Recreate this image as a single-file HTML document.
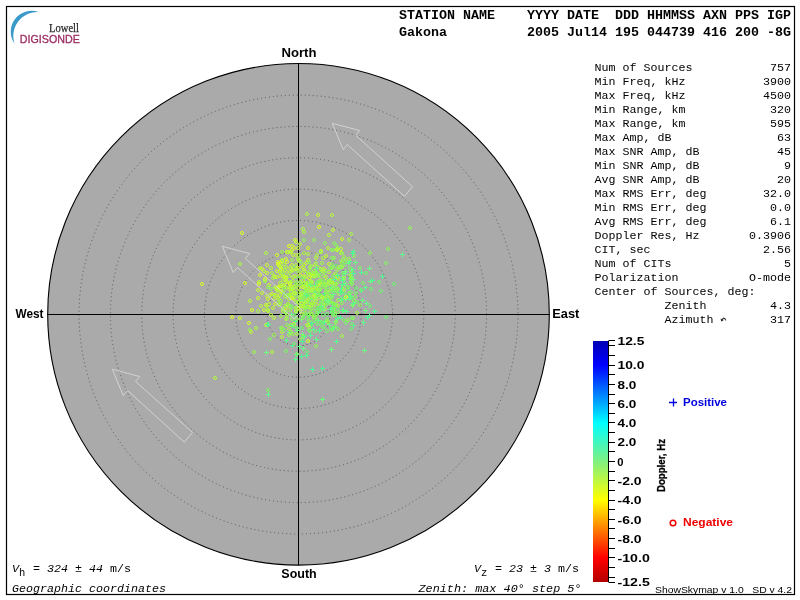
<!DOCTYPE html>
<html><head><meta charset="utf-8">
<style>
html,body{margin:0;padding:0;background:#fff;width:800px;height:600px;overflow:hidden}
svg{display:block;will-change:transform}
.mb{font-family:"Liberation Mono",monospace;font-weight:bold}
.m{font-family:"Liberation Mono",monospace}
.mi{font-family:"Liberation Mono",monospace;font-style:italic}
.sb{font-family:"Liberation Sans",sans-serif;font-weight:bold}
.s{font-family:"Liberation Sans",sans-serif}
</style></head><body>
<svg width="800" height="600" viewBox="0 0 800 600">
<rect x="0" y="0" width="800" height="600" fill="#fff"/>
<rect x="6.5" y="6.5" width="788" height="588" fill="none" stroke="#000" stroke-width="1.2"/>
<!-- logo -->
<path d="M38.5,12 A20.8,20.8 0 0 0 14.5,43.5 A24,24 0 0 1 38.5,12 Z" fill="#3a9ac9"/>
<text x="49" y="31.5" font-family="Liberation Serif" font-size="11.5" fill="#2b2b2b" stroke="#2b2b2b" stroke-width="0.25" textLength="30" lengthAdjust="spacingAndGlyphs">Lowell</text>
<text x="19.8" y="43.3" font-family="Liberation Sans" font-size="11" fill="#9b2c62" stroke="#9b2c62" stroke-width="0.3" textLength="60" lengthAdjust="spacingAndGlyphs">DIGISONDE</text>
<!-- header -->
<g class="mb" font-size="13.33" fill="#000">
<text x="399" y="19.3" xml:space="preserve">STATION NAME    YYYY DATE  DDD HHMMSS AXN PPS IGP</text>
<text x="399" y="36.3" xml:space="preserve">Gakona          2005 Jul14 195 044739 416 200 -8G</text>
</g>
<!-- sky circle -->
<circle cx="298.5" cy="314.3" r="250.8" fill="#aaaaaa" stroke="#000" stroke-width="1.1"/>
<g fill="none" stroke="#585858" stroke-width="1" stroke-dasharray="1 3">
<circle cx="298.5" cy="314.5" r="31.35"/>
<circle cx="298.5" cy="314.5" r="62.70"/>
<circle cx="298.5" cy="314.5" r="94.05"/>
<circle cx="298.5" cy="314.5" r="125.40"/>
<circle cx="298.5" cy="314.5" r="156.75"/>
<circle cx="298.5" cy="314.5" r="188.10"/>
<circle cx="298.5" cy="314.5" r="219.45"/>
</g>
<g stroke="#000" stroke-width="1">
<line x1="298.5" y1="63" x2="298.5" y2="565"/>
<line x1="47" y1="314.5" x2="549" y2="314.5"/>
</g>
<g id="pts" fill="none" stroke-width="1"><circle cx="343" cy="260" r="1.5" stroke="#8ef858"/><circle cx="309" cy="330" r="1.5" stroke="#6ef56e"/><circle cx="305" cy="287" r="1.5" stroke="#82f760"/><circle cx="278" cy="291" r="1.5" stroke="#b1fb3f"/><circle cx="308" cy="302" r="1.5" stroke="#70f56d"/><circle cx="336" cy="306" r="1.5" stroke="#84f75f"/><circle cx="326" cy="294" r="1.5" stroke="#75f669"/><circle cx="310" cy="297" r="1.5" stroke="#b2fb3e"/><circle cx="351" cy="234" r="1.5" stroke="#aafa44"/><circle cx="283" cy="276" r="1.5" stroke="#acfa43"/><circle cx="338" cy="306" r="1.5" stroke="#aefb41"/><circle cx="291" cy="252" r="1.5" stroke="#99f950"/><path d="M335.0 318.5h5M337.5 316.0v5" stroke="#57fc8d"/><circle cx="323" cy="305" r="1.5" stroke="#aefb42"/><circle cx="259" cy="284" r="1.5" stroke="#e1ff1e"/><circle cx="298" cy="259" r="1.5" stroke="#b3fb3e"/><circle cx="356" cy="293" r="1.5" stroke="#7ff762"/><circle cx="308" cy="298" r="1.5" stroke="#a4fa48"/><path d="M367.0 315.5h5M369.5 313.0v5" stroke="#56fc8d"/><circle cx="351" cy="282" r="1.5" stroke="#9bf94f"/><path d="M348.0 278.5h5M350.5 276.0v5" stroke="#55fc8e"/><path d="M307.0 315.5h5M309.5 313.0v5" stroke="#59fc8b"/><circle cx="292" cy="265" r="1.5" stroke="#c3fc33"/><circle cx="302" cy="328" r="1.5" stroke="#6ef56e"/><circle cx="312" cy="290" r="1.5" stroke="#e1ff1e"/><circle cx="330" cy="292" r="1.5" stroke="#93f854"/><circle cx="305" cy="310" r="1.5" stroke="#95f853"/><circle cx="287" cy="282" r="1.5" stroke="#d1fe29"/><circle cx="250" cy="330" r="1.5" stroke="#91f856"/><circle cx="266" cy="325" r="1.5" stroke="#c1fc34"/><path d="M299.0 319.5h5M301.5 317.0v5" stroke="#71ff7e"/><path d="M290.0 345.5h5M292.5 343.0v5" stroke="#4cfb93"/><circle cx="298" cy="248" r="1.5" stroke="#c1fc34"/><path d="M370.0 280.5h5M372.5 278.0v5" stroke="#46fa96"/><path d="M348.0 296.5h5M350.5 294.0v5" stroke="#6dfe80"/><circle cx="351" cy="292" r="1.5" stroke="#7af665"/><path d="M293.0 321.5h5M295.5 319.0v5" stroke="#51fb90"/><circle cx="293" cy="277" r="1.5" stroke="#c2fc33"/><circle cx="289" cy="276" r="1.5" stroke="#97f951"/><circle cx="322" cy="326" r="1.5" stroke="#78f667"/><circle cx="300" cy="297" r="1.5" stroke="#abfa44"/><circle cx="297" cy="277" r="1.5" stroke="#87f75c"/><circle cx="287" cy="325" r="1.5" stroke="#93f854"/><circle cx="264" cy="271" r="1.5" stroke="#b2fb3f"/><path d="M328.0 288.5h5M330.5 286.0v5" stroke="#48fa95"/><circle cx="295" cy="286" r="1.5" stroke="#cffd2b"/><circle cx="323" cy="297" r="1.5" stroke="#91f856"/><circle cx="302" cy="314" r="1.5" stroke="#b8fb3b"/><circle cx="292" cy="295" r="1.5" stroke="#b9fc3a"/><circle cx="283" cy="280" r="1.5" stroke="#b4fb3e"/><path d="M350.0 305.5h5M352.5 303.0v5" stroke="#70ff7f"/><circle cx="300" cy="300" r="1.5" stroke="#b6fb3c"/><path d="M365.0 317.5h5M367.5 315.0v5" stroke="#4dfb92"/><path d="M320.0 399.5h5M322.5 397.0v5" stroke="#6fff7f"/><circle cx="342" cy="239" r="1.5" stroke="#cdfd2c"/><circle cx="300" cy="282" r="1.5" stroke="#9ef94d"/><circle cx="334" cy="309" r="1.5" stroke="#78f667"/><path d="M335.0 288.5h5M337.5 286.0v5" stroke="#5dfd89"/><circle cx="319" cy="276" r="1.5" stroke="#bbfc38"/><circle cx="297" cy="307" r="1.5" stroke="#81f761"/><circle cx="410" cy="228" r="1.5" stroke="#92f855"/><circle cx="292" cy="288" r="1.5" stroke="#a9fa45"/><circle cx="287" cy="252" r="1.5" stroke="#e1ff1e"/><circle cx="343" cy="273" r="1.5" stroke="#80f761"/><circle cx="301" cy="293" r="1.5" stroke="#b3fb3e"/><circle cx="318" cy="295" r="1.5" stroke="#b0fb40"/><path d="M334.0 341.5h5M336.5 339.0v5" stroke="#55fc8e"/><circle cx="315" cy="292" r="1.5" stroke="#83f75f"/><circle cx="314" cy="305" r="1.5" stroke="#adfa42"/><circle cx="312" cy="274" r="1.5" stroke="#9df94d"/><circle cx="282" cy="260" r="1.5" stroke="#a1f94b"/><circle cx="334" cy="258" r="1.5" stroke="#92f855"/><circle cx="281" cy="267" r="1.5" stroke="#bffc36"/><circle cx="287" cy="262" r="1.5" stroke="#dafe23"/><path d="M341.0 310.5h5M343.5 308.0v5" stroke="#65fd85"/><circle cx="337" cy="249" r="1.5" stroke="#b5fb3d"/><circle cx="298" cy="302" r="1.5" stroke="#a5fa47"/><circle cx="267" cy="296" r="1.5" stroke="#c5fd31"/><path d="M351.0 279.5h5M353.5 277.0v5" stroke="#6efe80"/><circle cx="290" cy="295" r="1.5" stroke="#a2f94a"/><circle cx="379" cy="282" r="1.5" stroke="#71f56c"/><circle cx="294" cy="344" r="1.5" stroke="#6ef56e"/><circle cx="301" cy="306" r="1.5" stroke="#b2fb3f"/><circle cx="349" cy="293" r="1.5" stroke="#88f75c"/><path d="M372.0 311.5h5M374.5 309.0v5" stroke="#50fb90"/><circle cx="291" cy="288" r="1.5" stroke="#b0fb40"/><circle cx="338" cy="300" r="1.5" stroke="#acfa43"/><circle cx="304" cy="265" r="1.5" stroke="#bafc39"/><circle cx="293" cy="270" r="1.5" stroke="#e1ff1e"/><circle cx="337" cy="250" r="1.5" stroke="#b8fb3a"/><circle cx="342" cy="336" r="1.5" stroke="#a6fa47"/><circle cx="321" cy="269" r="1.5" stroke="#adfa42"/><circle cx="283" cy="309" r="1.5" stroke="#a1f94a"/><circle cx="289" cy="289" r="1.5" stroke="#b4fb3d"/><circle cx="351" cy="283" r="1.5" stroke="#6ef56e"/><circle cx="262" cy="269" r="1.5" stroke="#d5fe26"/><path d="M329.0 349.5h5M331.5 347.0v5" stroke="#72ff7e"/><circle cx="320" cy="311" r="1.5" stroke="#8ff857"/><circle cx="292" cy="319" r="1.5" stroke="#97f951"/><path d="M340.0 277.5h5M342.5 275.0v5" stroke="#66fe84"/><circle cx="299" cy="255" r="1.5" stroke="#a6fa47"/><circle cx="291" cy="325" r="1.5" stroke="#9df94d"/><path d="M330.0 289.5h5M332.5 287.0v5" stroke="#71ff7e"/><circle cx="311" cy="308" r="1.5" stroke="#96f852"/><circle cx="354" cy="256" r="1.5" stroke="#8cf859"/><path d="M302.0 293.5h5M304.5 291.0v5" stroke="#6afe82"/><circle cx="366" cy="273" r="1.5" stroke="#70f56d"/><circle cx="321" cy="280" r="1.5" stroke="#a5fa48"/><circle cx="334" cy="285" r="1.5" stroke="#97f952"/><circle cx="274" cy="276" r="1.5" stroke="#bafc39"/><circle cx="310" cy="325" r="1.5" stroke="#a5fa47"/><circle cx="338" cy="282" r="1.5" stroke="#8df859"/><circle cx="346" cy="259" r="1.5" stroke="#a3fa49"/><circle cx="323" cy="315" r="1.5" stroke="#77f668"/><circle cx="322" cy="323" r="1.5" stroke="#6ef56e"/><circle cx="319" cy="281" r="1.5" stroke="#a2f94a"/><circle cx="280" cy="272" r="1.5" stroke="#c2fc33"/><circle cx="312" cy="272" r="1.5" stroke="#8ff857"/><circle cx="307" cy="291" r="1.5" stroke="#bbfc38"/><circle cx="269" cy="304" r="1.5" stroke="#befc36"/><circle cx="336" cy="245" r="1.5" stroke="#8bf85a"/><circle cx="306" cy="308" r="1.5" stroke="#79f666"/><circle cx="326" cy="271" r="1.5" stroke="#7ef663"/><circle cx="307" cy="284" r="1.5" stroke="#c6fd31"/><circle cx="307" cy="352" r="1.5" stroke="#6ef56e"/><path d="M338.0 299.5h5M340.5 297.0v5" stroke="#51fb90"/><circle cx="329" cy="303" r="1.5" stroke="#a4fa48"/><circle cx="315" cy="294" r="1.5" stroke="#e1ff1e"/><circle cx="312" cy="275" r="1.5" stroke="#a8fa46"/><circle cx="302" cy="309" r="1.5" stroke="#adfa42"/><circle cx="252" cy="310" r="1.5" stroke="#e1ff1e"/><circle cx="336" cy="266" r="1.5" stroke="#6ef56e"/><path d="M347.0 298.5h5M349.5 296.0v5" stroke="#64fd85"/><path d="M310.0 369.5h5M312.5 367.0v5" stroke="#4afa94"/><circle cx="290" cy="268" r="1.5" stroke="#bcfc38"/><path d="M300.0 300.5h5M302.5 298.0v5" stroke="#62fd86"/><circle cx="337" cy="309" r="1.5" stroke="#6ef56e"/><circle cx="293" cy="334" r="1.5" stroke="#91f856"/><circle cx="339" cy="267" r="1.5" stroke="#b3fb3e"/><path d="M364.0 303.5h5M366.5 301.0v5" stroke="#65fd85"/><circle cx="315" cy="331" r="1.5" stroke="#79f666"/><path d="M344.0 311.5h5M346.5 309.0v5" stroke="#5afc8b"/><path d="M330.0 287.5h5M332.5 285.0v5" stroke="#64fd85"/><circle cx="286" cy="308" r="1.5" stroke="#cafd2e"/><circle cx="299" cy="306" r="1.5" stroke="#99f950"/><circle cx="313" cy="287" r="1.5" stroke="#c5fd31"/><circle cx="316" cy="295" r="1.5" stroke="#95f853"/><circle cx="360" cy="305" r="1.5" stroke="#8ff857"/><circle cx="256" cy="328" r="1.5" stroke="#b1fb3f"/><circle cx="329" cy="290" r="1.5" stroke="#acfa43"/><circle cx="324" cy="276" r="1.5" stroke="#a6fa47"/><circle cx="279" cy="305" r="1.5" stroke="#9cf94e"/><circle cx="280" cy="286" r="1.5" stroke="#e0ff1f"/><circle cx="316" cy="287" r="1.5" stroke="#8ff857"/><circle cx="331" cy="298" r="1.5" stroke="#a1f94a"/><circle cx="322" cy="322" r="1.5" stroke="#6ef56e"/><path d="M266.0 324.5h5M268.5 322.0v5" stroke="#52fb8f"/><circle cx="281" cy="328" r="1.5" stroke="#8af75b"/><circle cx="342" cy="267" r="1.5" stroke="#b0fb40"/><circle cx="344" cy="290" r="1.5" stroke="#b3fb3e"/><circle cx="386" cy="317" r="1.5" stroke="#6ef56e"/><circle cx="297" cy="282" r="1.5" stroke="#9bf94f"/><circle cx="278" cy="262" r="1.5" stroke="#e1ff1e"/><circle cx="315" cy="299" r="1.5" stroke="#ccfd2d"/><circle cx="259" cy="282" r="1.5" stroke="#c6fd31"/><path d="M327.0 324.5h5M329.5 322.0v5" stroke="#6cfe81"/><circle cx="314" cy="317" r="1.5" stroke="#a6fa47"/><circle cx="305" cy="288" r="1.5" stroke="#97f951"/><circle cx="334" cy="310" r="1.5" stroke="#9af94f"/><circle cx="249" cy="323" r="1.5" stroke="#d8fe24"/><circle cx="328" cy="248" r="1.5" stroke="#bafc39"/><circle cx="318" cy="267" r="1.5" stroke="#9ef94d"/><path d="M360.0 300.5h5M362.5 298.0v5" stroke="#68fe83"/><circle cx="352" cy="284" r="1.5" stroke="#88f75c"/><circle cx="304" cy="269" r="1.5" stroke="#bbfc39"/><path d="M316.0 312.5h5M318.5 310.0v5" stroke="#4efb92"/><path d="M308.0 335.5h5M310.5 333.0v5" stroke="#56fc8d"/><path d="M330.0 328.5h5M332.5 326.0v5" stroke="#64fd85"/><circle cx="371" cy="289" r="1.5" stroke="#6ef56e"/><circle cx="302" cy="292" r="1.5" stroke="#91f856"/><circle cx="329" cy="295" r="1.5" stroke="#74f66a"/><circle cx="337" cy="275" r="1.5" stroke="#7bf665"/><circle cx="296" cy="312" r="1.5" stroke="#6ef56e"/><circle cx="307" cy="214" r="1.5" stroke="#b0fb40"/><circle cx="314" cy="276" r="1.5" stroke="#c2fc33"/><circle cx="258" cy="311" r="1.5" stroke="#a9fa45"/><circle cx="331" cy="280" r="1.5" stroke="#a4fa49"/><circle cx="325" cy="309" r="1.5" stroke="#affb41"/><path d="M305.0 284.5h5M307.5 282.0v5" stroke="#59fc8b"/><circle cx="319" cy="282" r="1.5" stroke="#79f666"/><circle cx="329" cy="283" r="1.5" stroke="#b9fc3a"/><circle cx="309" cy="281" r="1.5" stroke="#91f855"/><circle cx="317" cy="314" r="1.5" stroke="#a3fa49"/><circle cx="305" cy="296" r="1.5" stroke="#91f855"/><circle cx="313" cy="287" r="1.5" stroke="#b1fb3f"/><circle cx="301" cy="293" r="1.5" stroke="#c0fc35"/><path d="M287.0 332.5h5M289.5 330.0v5" stroke="#54fc8e"/><circle cx="296" cy="255" r="1.5" stroke="#c6fd31"/><circle cx="343" cy="286" r="1.5" stroke="#9ff94c"/><circle cx="338" cy="329" r="1.5" stroke="#83f75f"/><circle cx="281" cy="289" r="1.5" stroke="#9cf94e"/><circle cx="327" cy="314" r="1.5" stroke="#6ff56d"/><circle cx="332" cy="258" r="1.5" stroke="#8af75a"/><circle cx="283" cy="311" r="1.5" stroke="#adfa42"/><circle cx="328" cy="296" r="1.5" stroke="#a2fa4a"/><circle cx="332" cy="296" r="1.5" stroke="#93f854"/><circle cx="299" cy="261" r="1.5" stroke="#b7fb3b"/><circle cx="304" cy="302" r="1.5" stroke="#8df859"/><circle cx="316" cy="315" r="1.5" stroke="#7df664"/><circle cx="293" cy="298" r="1.5" stroke="#bdfc37"/><circle cx="290" cy="296" r="1.5" stroke="#cbfd2e"/><circle cx="336" cy="278" r="1.5" stroke="#c3fc33"/><circle cx="321" cy="304" r="1.5" stroke="#9bf94f"/><circle cx="318" cy="289" r="1.5" stroke="#9df94d"/><circle cx="321" cy="302" r="1.5" stroke="#74f66a"/><circle cx="301" cy="284" r="1.5" stroke="#98f951"/><circle cx="314" cy="318" r="1.5" stroke="#92f855"/><circle cx="325" cy="287" r="1.5" stroke="#abfa44"/><circle cx="329" cy="235" r="1.5" stroke="#bafc39"/><circle cx="332" cy="282" r="1.5" stroke="#ccfd2c"/><circle cx="295" cy="293" r="1.5" stroke="#bbfc39"/><circle cx="290" cy="310" r="1.5" stroke="#a7fa46"/><circle cx="315" cy="291" r="1.5" stroke="#8af75a"/><circle cx="317" cy="305" r="1.5" stroke="#b2fb3e"/><circle cx="293" cy="281" r="1.5" stroke="#a6fa47"/><path d="M309.0 298.5h5M311.5 296.0v5" stroke="#5cfc8a"/><circle cx="312" cy="299" r="1.5" stroke="#91f855"/><circle cx="357" cy="302" r="1.5" stroke="#75f669"/><circle cx="278" cy="303" r="1.5" stroke="#9ef94d"/><circle cx="291" cy="292" r="1.5" stroke="#b4fb3e"/><circle cx="327" cy="319" r="1.5" stroke="#7ef663"/><circle cx="281" cy="269" r="1.5" stroke="#e1ff1e"/><circle cx="279" cy="266" r="1.5" stroke="#c7fd30"/><path d="M323.0 299.5h5M325.5 297.0v5" stroke="#48fa95"/><circle cx="232" cy="317" r="1.5" stroke="#e1ff1e"/><circle cx="300" cy="272" r="1.5" stroke="#affb41"/><path d="M333.0 321.5h5M335.5 319.0v5" stroke="#59fc8b"/><circle cx="309" cy="307" r="1.5" stroke="#deff20"/><circle cx="333" cy="304" r="1.5" stroke="#9bf94f"/><circle cx="274" cy="299" r="1.5" stroke="#c3fc33"/><circle cx="282" cy="261" r="1.5" stroke="#bffc36"/><circle cx="265" cy="281" r="1.5" stroke="#94f854"/><circle cx="281" cy="301" r="1.5" stroke="#98f951"/><circle cx="307" cy="307" r="1.5" stroke="#82f760"/><circle cx="325" cy="296" r="1.5" stroke="#6ef56e"/><path d="M313.0 285.5h5M315.5 283.0v5" stroke="#60fd87"/><circle cx="268" cy="311" r="1.5" stroke="#bcfc38"/><circle cx="352" cy="275" r="1.5" stroke="#7cf664"/><circle cx="290" cy="283" r="1.5" stroke="#acfa43"/><circle cx="351" cy="277" r="1.5" stroke="#85f75e"/><circle cx="273" cy="308" r="1.5" stroke="#bbfc38"/><circle cx="268" cy="299" r="1.5" stroke="#d2fe28"/><circle cx="285" cy="277" r="1.5" stroke="#b0fb40"/><path d="M359.0 290.5h5M361.5 288.0v5" stroke="#59fc8c"/><circle cx="333" cy="250" r="1.5" stroke="#83f75f"/><circle cx="316" cy="288" r="1.5" stroke="#adfa42"/><circle cx="300" cy="339" r="1.5" stroke="#8ff857"/><circle cx="276" cy="288" r="1.5" stroke="#c5fd31"/><path d="M343.0 273.5h5M345.5 271.0v5" stroke="#5ffd88"/><circle cx="332" cy="264" r="1.5" stroke="#7bf665"/><path d="M322.0 293.5h5M324.5 291.0v5" stroke="#5afc8b"/><circle cx="308" cy="260" r="1.5" stroke="#c1fc34"/><circle cx="304" cy="232" r="1.5" stroke="#b1fb40"/><circle cx="286" cy="281" r="1.5" stroke="#b7fb3b"/><circle cx="318" cy="312" r="1.5" stroke="#7bf665"/><circle cx="286" cy="312" r="1.5" stroke="#9ef94d"/><circle cx="308" cy="319" r="1.5" stroke="#7af666"/><circle cx="287" cy="318" r="1.5" stroke="#85f75e"/><circle cx="288" cy="304" r="1.5" stroke="#98f951"/><circle cx="326" cy="285" r="1.5" stroke="#98f951"/><path d="M339.0 288.5h5M341.5 286.0v5" stroke="#4ffb91"/><path d="M361.0 322.5h5M363.5 320.0v5" stroke="#5efd88"/><circle cx="306" cy="291" r="1.5" stroke="#91f856"/><path d="M265.0 324.5h5M267.5 322.0v5" stroke="#55fc8e"/><circle cx="287" cy="315" r="1.5" stroke="#affb41"/><path d="M351.0 325.5h5M353.5 323.0v5" stroke="#57fc8c"/><circle cx="289" cy="329" r="1.5" stroke="#a9fa45"/><circle cx="322" cy="263" r="1.5" stroke="#a3fa49"/><circle cx="281" cy="286" r="1.5" stroke="#a5fa48"/><circle cx="269" cy="285" r="1.5" stroke="#dcff22"/><circle cx="304" cy="305" r="1.5" stroke="#81f761"/><circle cx="333" cy="267" r="1.5" stroke="#9af950"/><circle cx="284" cy="287" r="1.5" stroke="#abfa43"/><circle cx="342" cy="299" r="1.5" stroke="#96f852"/><path d="M351.0 251.5h5M353.5 249.0v5" stroke="#5afc8b"/><circle cx="312" cy="291" r="1.5" stroke="#98f950"/><path d="M314.0 295.5h5M316.5 293.0v5" stroke="#55fc8e"/><circle cx="302" cy="287" r="1.5" stroke="#b8fb3b"/><circle cx="327" cy="304" r="1.5" stroke="#7bf665"/><circle cx="286" cy="259" r="1.5" stroke="#d9fe23"/><circle cx="308" cy="254" r="1.5" stroke="#b4fb3d"/><circle cx="272" cy="294" r="1.5" stroke="#e1ff1e"/><circle cx="311" cy="309" r="1.5" stroke="#88f75c"/><circle cx="361" cy="290" r="1.5" stroke="#6ef56e"/><circle cx="334" cy="243" r="1.5" stroke="#86f75e"/><path d="M332.0 327.5h5M334.5 325.0v5" stroke="#54fc8e"/><circle cx="315" cy="275" r="1.5" stroke="#9af94f"/><circle cx="311" cy="325" r="1.5" stroke="#77f668"/><circle cx="332" cy="303" r="1.5" stroke="#6ef56e"/><circle cx="286" cy="267" r="1.5" stroke="#b1fb3f"/><circle cx="319" cy="294" r="1.5" stroke="#7df664"/><circle cx="291" cy="288" r="1.5" stroke="#bbfc39"/><circle cx="332" cy="330" r="1.5" stroke="#82f760"/><path d="M311.0 329.5h5M313.5 327.0v5" stroke="#57fc8c"/><circle cx="306" cy="302" r="1.5" stroke="#aafa44"/><circle cx="279" cy="287" r="1.5" stroke="#cbfd2d"/><circle cx="280" cy="263" r="1.5" stroke="#e1ff1e"/><circle cx="325" cy="243" r="1.5" stroke="#8df859"/><circle cx="330" cy="301" r="1.5" stroke="#98f951"/><circle cx="290" cy="252" r="1.5" stroke="#d5fe26"/><path d="M347.0 261.5h5M349.5 259.0v5" stroke="#51fb90"/><circle cx="272" cy="352" r="1.5" stroke="#b3fb3e"/><circle cx="333" cy="276" r="1.5" stroke="#86f75e"/><circle cx="322" cy="308" r="1.5" stroke="#a6fa47"/><path d="M351.0 273.5h5M353.5 271.0v5" stroke="#4cfb93"/><circle cx="295" cy="276" r="1.5" stroke="#b8fb3b"/><circle cx="282" cy="271" r="1.5" stroke="#b4fb3d"/><circle cx="266" cy="253" r="1.5" stroke="#aefb42"/><path d="M316.0 275.5h5M318.5 273.0v5" stroke="#70ff7f"/><circle cx="344" cy="290" r="1.5" stroke="#a1f94b"/><circle cx="326" cy="256" r="1.5" stroke="#c7fd30"/><circle cx="297" cy="328" r="1.5" stroke="#74f66a"/><path d="M284.0 340.5h5M286.5 338.0v5" stroke="#55fc8d"/><circle cx="240" cy="264" r="1.5" stroke="#b1fb3f"/><circle cx="327" cy="297" r="1.5" stroke="#b9fc3a"/><circle cx="344" cy="265" r="1.5" stroke="#8bf85a"/><circle cx="298" cy="288" r="1.5" stroke="#c0fc35"/><circle cx="312" cy="282" r="1.5" stroke="#c7fd30"/><circle cx="299" cy="260" r="1.5" stroke="#aefb42"/><circle cx="336" cy="284" r="1.5" stroke="#92f855"/><circle cx="319" cy="308" r="1.5" stroke="#6ef56e"/><circle cx="326" cy="292" r="1.5" stroke="#a4fa48"/><circle cx="260" cy="268" r="1.5" stroke="#bdfc37"/><circle cx="306" cy="289" r="1.5" stroke="#a1f94b"/><circle cx="337" cy="270" r="1.5" stroke="#a8fa45"/><circle cx="285" cy="306" r="1.5" stroke="#a5fa48"/><circle cx="332" cy="250" r="1.5" stroke="#93f854"/><circle cx="321" cy="296" r="1.5" stroke="#6ef56e"/><circle cx="282" cy="337" r="1.5" stroke="#b3fb3e"/><circle cx="316" cy="346" r="1.5" stroke="#94f854"/><circle cx="277" cy="290" r="1.5" stroke="#bbfc39"/><circle cx="295" cy="240" r="1.5" stroke="#d4fe27"/><circle cx="311" cy="266" r="1.5" stroke="#a8fa46"/><circle cx="324" cy="272" r="1.5" stroke="#91f855"/><circle cx="321" cy="252" r="1.5" stroke="#a3fa49"/><path d="M350.0 269.5h5M352.5 267.0v5" stroke="#4cfb93"/><circle cx="333" cy="315" r="1.5" stroke="#91f856"/><circle cx="296" cy="284" r="1.5" stroke="#8cf859"/><circle cx="335" cy="274" r="1.5" stroke="#b8fb3b"/><circle cx="322" cy="282" r="1.5" stroke="#a1f94a"/><circle cx="314" cy="271" r="1.5" stroke="#a8fa46"/><circle cx="311" cy="291" r="1.5" stroke="#a8fa46"/><circle cx="319" cy="227" r="1.5" stroke="#e1ff1e"/><circle cx="299" cy="292" r="1.5" stroke="#9ff94c"/><circle cx="292" cy="271" r="1.5" stroke="#a8fa46"/><circle cx="300" cy="310" r="1.5" stroke="#a7fa46"/><circle cx="324" cy="269" r="1.5" stroke="#cbfd2d"/><circle cx="306" cy="283" r="1.5" stroke="#9ef94d"/><circle cx="289" cy="246" r="1.5" stroke="#e1ff1e"/><circle cx="279" cy="265" r="1.5" stroke="#abfa44"/><circle cx="349" cy="294" r="1.5" stroke="#6ef56e"/><circle cx="267" cy="273" r="1.5" stroke="#cefd2b"/><circle cx="282" cy="332" r="1.5" stroke="#c0fc35"/><circle cx="284" cy="276" r="1.5" stroke="#cbfd2d"/><circle cx="202" cy="284" r="1.5" stroke="#e1ff1e"/><circle cx="303" cy="337" r="1.5" stroke="#8af75a"/><path d="M340.0 299.5h5M342.5 297.0v5" stroke="#50fb90"/><circle cx="348" cy="287" r="1.5" stroke="#85f75e"/><circle cx="268" cy="390" r="1.5" stroke="#7df664"/><circle cx="313" cy="297" r="1.5" stroke="#bffc36"/><circle cx="308" cy="300" r="1.5" stroke="#b7fb3b"/><path d="M368.0 281.5h5M370.5 279.0v5" stroke="#6dfe80"/><circle cx="342" cy="253" r="1.5" stroke="#93f854"/><circle cx="287" cy="296" r="1.5" stroke="#a3fa49"/><circle cx="289" cy="299" r="1.5" stroke="#b2fb3e"/><circle cx="311" cy="314" r="1.5" stroke="#87f75d"/><circle cx="330" cy="268" r="1.5" stroke="#87f75d"/><path d="M362.0 350.5h5M364.5 348.0v5" stroke="#68fe83"/><circle cx="283" cy="274" r="1.5" stroke="#9cf94e"/><circle cx="302" cy="297" r="1.5" stroke="#c4fc32"/><path d="M313.0 298.5h5M315.5 296.0v5" stroke="#66fe84"/><circle cx="325" cy="305" r="1.5" stroke="#95f853"/><path d="M326.0 280.5h5M328.5 278.0v5" stroke="#52fb90"/><circle cx="282" cy="292" r="1.5" stroke="#cafd2e"/><circle cx="316" cy="296" r="1.5" stroke="#acfa43"/><circle cx="262" cy="293" r="1.5" stroke="#c7fd30"/><circle cx="270" cy="339" r="1.5" stroke="#83f75f"/><path d="M340.0 284.5h5M342.5 282.0v5" stroke="#50fb90"/><circle cx="318" cy="215" r="1.5" stroke="#cbfd2d"/><circle cx="356" cy="288" r="1.5" stroke="#6ef56e"/><circle cx="270" cy="295" r="1.5" stroke="#bffc36"/><circle cx="285" cy="270" r="1.5" stroke="#b0fb40"/><circle cx="319" cy="283" r="1.5" stroke="#8df858"/><circle cx="304" cy="306" r="1.5" stroke="#b4fb3d"/><circle cx="331" cy="282" r="1.5" stroke="#b7fb3b"/><circle cx="296" cy="265" r="1.5" stroke="#b3fb3e"/><circle cx="312" cy="285" r="1.5" stroke="#95f853"/><circle cx="304" cy="253" r="1.5" stroke="#aefb42"/><circle cx="314" cy="321" r="1.5" stroke="#7cf664"/><circle cx="286" cy="313" r="1.5" stroke="#adfa42"/><circle cx="267" cy="265" r="1.5" stroke="#c7fd30"/><circle cx="318" cy="290" r="1.5" stroke="#b3fb3e"/><path d="M349.0 297.5h5M351.5 295.0v5" stroke="#4ffb91"/><circle cx="273" cy="278" r="1.5" stroke="#a3fa49"/><circle cx="260" cy="275" r="1.5" stroke="#dcff21"/><circle cx="333" cy="309" r="1.5" stroke="#a3fa49"/><path d="M300.0 341.5h5M302.5 339.0v5" stroke="#49fa94"/><circle cx="291" cy="289" r="1.5" stroke="#b4fb3d"/><circle cx="300" cy="298" r="1.5" stroke="#a5fa48"/><circle cx="277" cy="277" r="1.5" stroke="#b4fb3d"/><circle cx="300" cy="275" r="1.5" stroke="#e1ff1e"/><circle cx="281" cy="316" r="1.5" stroke="#9cf94e"/><circle cx="302" cy="296" r="1.5" stroke="#aefb42"/><circle cx="326" cy="281" r="1.5" stroke="#9ff94c"/><circle cx="254" cy="352" r="1.5" stroke="#97f952"/><circle cx="339" cy="294" r="1.5" stroke="#b1fb40"/><circle cx="291" cy="286" r="1.5" stroke="#c6fd31"/><circle cx="370" cy="306" r="1.5" stroke="#6ef56e"/><path d="M295.0 330.5h5M297.5 328.0v5" stroke="#69fe83"/><path d="M301.0 348.5h5M303.5 346.0v5" stroke="#68fe83"/><circle cx="286" cy="351" r="1.5" stroke="#7bf665"/><circle cx="292" cy="260" r="1.5" stroke="#a0f94b"/><circle cx="333" cy="303" r="1.5" stroke="#9ff94c"/><circle cx="296" cy="308" r="1.5" stroke="#adfb42"/><circle cx="317" cy="322" r="1.5" stroke="#6ff56e"/><circle cx="289" cy="335" r="1.5" stroke="#9af94f"/><circle cx="321" cy="251" r="1.5" stroke="#acfa43"/><circle cx="308" cy="272" r="1.5" stroke="#a7fa46"/><circle cx="326" cy="303" r="1.5" stroke="#84f75f"/><circle cx="338" cy="289" r="1.5" stroke="#93f854"/><circle cx="308" cy="293" r="1.5" stroke="#93f854"/><circle cx="276" cy="295" r="1.5" stroke="#c8fd2f"/><path d="M308.0 285.5h5M310.5 283.0v5" stroke="#55fc8e"/><circle cx="295" cy="287" r="1.5" stroke="#96f952"/><circle cx="349" cy="240" r="1.5" stroke="#a6fa47"/><circle cx="319" cy="290" r="1.5" stroke="#92f855"/><path d="M321.0 309.5h5M323.5 307.0v5" stroke="#6bfe81"/><path d="M341.0 279.5h5M343.5 277.0v5" stroke="#6afe82"/><circle cx="297" cy="269" r="1.5" stroke="#b9fc3a"/><circle cx="284" cy="285" r="1.5" stroke="#d1fe29"/><circle cx="304" cy="298" r="1.5" stroke="#a2fa4a"/><path d="M380.0 276.5h5M382.5 274.0v5" stroke="#4dfb92"/><circle cx="351" cy="279" r="1.5" stroke="#97f952"/><circle cx="293" cy="255" r="1.5" stroke="#c3fc33"/><circle cx="290" cy="295" r="1.5" stroke="#a9fa45"/><path d="M290.0 325.5h5M292.5 323.0v5" stroke="#48fa95"/><circle cx="315" cy="265" r="1.5" stroke="#c1fc34"/><circle cx="307" cy="325" r="1.5" stroke="#a0f94b"/><circle cx="280" cy="276" r="1.5" stroke="#c6fd31"/><circle cx="333" cy="230" r="1.5" stroke="#c7fd30"/><circle cx="351" cy="271" r="1.5" stroke="#89f75b"/><circle cx="349" cy="259" r="1.5" stroke="#9ef94d"/><path d="M353.0 262.5h5M355.5 260.0v5" stroke="#67fe84"/><circle cx="341" cy="267" r="1.5" stroke="#99f950"/><circle cx="266" cy="305" r="1.5" stroke="#d1fe29"/><circle cx="277" cy="271" r="1.5" stroke="#c7fd30"/><path d="M309.0 323.5h5M311.5 321.0v5" stroke="#46fa96"/><circle cx="275" cy="277" r="1.5" stroke="#c9fd2f"/><circle cx="344" cy="278" r="1.5" stroke="#aefb42"/><path d="M325.0 300.5h5M327.5 298.0v5" stroke="#54fc8e"/><circle cx="329" cy="264" r="1.5" stroke="#c6fd31"/><circle cx="328" cy="299" r="1.5" stroke="#92f855"/><path d="M317.0 330.5h5M319.5 328.0v5" stroke="#51fb90"/><circle cx="303" cy="294" r="1.5" stroke="#99f950"/><circle cx="363" cy="283" r="1.5" stroke="#75f669"/><circle cx="311" cy="296" r="1.5" stroke="#8ef858"/><circle cx="292" cy="246" r="1.5" stroke="#d8fe24"/><circle cx="313" cy="303" r="1.5" stroke="#a0f94b"/><circle cx="330" cy="281" r="1.5" stroke="#97f951"/><circle cx="351" cy="298" r="1.5" stroke="#6ef56e"/><circle cx="338" cy="248" r="1.5" stroke="#8ff857"/><path d="M300.0 334.5h5M302.5 332.0v5" stroke="#71ff7e"/><circle cx="310" cy="268" r="1.5" stroke="#a7fa46"/><circle cx="325" cy="284" r="1.5" stroke="#a1f94b"/><path d="M326.0 301.5h5M328.5 299.0v5" stroke="#72ff7d"/><circle cx="286" cy="313" r="1.5" stroke="#88f75c"/><path d="M305.0 285.5h5M307.5 283.0v5" stroke="#6fff7f"/><path d="M330.0 307.5h5M332.5 305.0v5" stroke="#67fe84"/><circle cx="333" cy="289" r="1.5" stroke="#a5fa48"/><circle cx="306" cy="283" r="1.5" stroke="#acfa43"/><circle cx="337" cy="291" r="1.5" stroke="#85f75e"/><circle cx="308" cy="274" r="1.5" stroke="#a4fa49"/><circle cx="348" cy="288" r="1.5" stroke="#6ef56e"/><circle cx="282" cy="328" r="1.5" stroke="#95f853"/><circle cx="309" cy="305" r="1.5" stroke="#a1f94b"/><circle cx="315" cy="299" r="1.5" stroke="#aafa44"/><circle cx="258" cy="290" r="1.5" stroke="#c6fd31"/><circle cx="328" cy="322" r="1.5" stroke="#92f855"/><circle cx="340" cy="268" r="1.5" stroke="#80f761"/><circle cx="271" cy="289" r="1.5" stroke="#92f855"/><circle cx="272" cy="273" r="1.5" stroke="#a9fa45"/><circle cx="300" cy="244" r="1.5" stroke="#befc36"/><circle cx="370" cy="253" r="1.5" stroke="#92f855"/><circle cx="286" cy="319" r="1.5" stroke="#aefb42"/><circle cx="318" cy="285" r="1.5" stroke="#aafa44"/><circle cx="323" cy="258" r="1.5" stroke="#adfa42"/><circle cx="312" cy="314" r="1.5" stroke="#9ef94c"/><circle cx="306" cy="285" r="1.5" stroke="#b6fb3c"/><circle cx="310" cy="312" r="1.5" stroke="#96f852"/><circle cx="304" cy="240" r="1.5" stroke="#92f855"/><circle cx="290" cy="284" r="1.5" stroke="#e1ff1e"/><circle cx="271" cy="315" r="1.5" stroke="#b5fb3d"/><circle cx="309" cy="321" r="1.5" stroke="#90f857"/><circle cx="274" cy="318" r="1.5" stroke="#b7fb3b"/><circle cx="289" cy="287" r="1.5" stroke="#b8fb3b"/><circle cx="344" cy="293" r="1.5" stroke="#7ff762"/><path d="M359.0 272.5h5M361.5 270.0v5" stroke="#50fb91"/><circle cx="295" cy="294" r="1.5" stroke="#a8fa46"/><circle cx="354" cy="301" r="1.5" stroke="#8df858"/><circle cx="240" cy="318" r="1.5" stroke="#c9fd2f"/><circle cx="360" cy="268" r="1.5" stroke="#80f762"/><circle cx="290" cy="272" r="1.5" stroke="#b6fb3c"/><circle cx="336" cy="304" r="1.5" stroke="#abfa44"/><circle cx="250" cy="301" r="1.5" stroke="#bdfc37"/><circle cx="303" cy="229" r="1.5" stroke="#aefb41"/><circle cx="284" cy="293" r="1.5" stroke="#8af75b"/><path d="M304.0 295.5h5M306.5 293.0v5" stroke="#47fa95"/><circle cx="286" cy="277" r="1.5" stroke="#cbfd2e"/><circle cx="267" cy="306" r="1.5" stroke="#b5fb3d"/><circle cx="311" cy="281" r="1.5" stroke="#b3fb3e"/><circle cx="316" cy="258" r="1.5" stroke="#bbfc38"/><path d="M346.0 263.5h5M348.5 261.0v5" stroke="#6afe82"/><circle cx="323" cy="302" r="1.5" stroke="#94f853"/><circle cx="289" cy="306" r="1.5" stroke="#a7fa46"/><circle cx="297" cy="334" r="1.5" stroke="#a7fa46"/><circle cx="284" cy="330" r="1.5" stroke="#7ff662"/><circle cx="341" cy="253" r="1.5" stroke="#affb41"/><circle cx="337" cy="288" r="1.5" stroke="#92f855"/><path d="M350.0 253.5h5M352.5 251.0v5" stroke="#46fa96"/><circle cx="294" cy="291" r="1.5" stroke="#b5fb3c"/><circle cx="290" cy="282" r="1.5" stroke="#aefb42"/><path d="M322.0 322.5h5M324.5 320.0v5" stroke="#5efd89"/><circle cx="294" cy="293" r="1.5" stroke="#b0fb40"/><circle cx="312" cy="305" r="1.5" stroke="#9ef94d"/><path d="M340.0 310.5h5M342.5 308.0v5" stroke="#61fd87"/><path d="M320.0 368.5h5M322.5 366.0v5" stroke="#49fa94"/><circle cx="336" cy="291" r="1.5" stroke="#87f75c"/><circle cx="352" cy="324" r="1.5" stroke="#6ff56d"/><circle cx="386" cy="263" r="1.5" stroke="#80f762"/><path d="M294.0 354.5h5M296.5 352.0v5" stroke="#56fc8d"/><circle cx="338" cy="278" r="1.5" stroke="#b3fb3e"/><circle cx="277" cy="288" r="1.5" stroke="#a6fa47"/><circle cx="291" cy="306" r="1.5" stroke="#86f75d"/><circle cx="304" cy="336" r="1.5" stroke="#97f952"/><circle cx="311" cy="283" r="1.5" stroke="#9bf94f"/><circle cx="309" cy="327" r="1.5" stroke="#adfb42"/><circle cx="346" cy="323" r="1.5" stroke="#76f669"/><path d="M338.0 317.5h5M340.5 315.0v5" stroke="#52fb90"/><circle cx="329" cy="272" r="1.5" stroke="#bafc39"/><circle cx="311" cy="291" r="1.5" stroke="#a8fa45"/><circle cx="323" cy="271" r="1.5" stroke="#b6fb3c"/><circle cx="284" cy="290" r="1.5" stroke="#99f950"/><path d="M363.0 310.5h5M365.5 308.0v5" stroke="#69fe82"/><circle cx="331" cy="281" r="1.5" stroke="#8ef857"/><circle cx="296" cy="302" r="1.5" stroke="#acfa43"/><circle cx="342" cy="303" r="1.5" stroke="#93f854"/><circle cx="302" cy="303" r="1.5" stroke="#bcfc38"/><circle cx="327" cy="288" r="1.5" stroke="#7ff762"/><circle cx="297" cy="271" r="1.5" stroke="#98f951"/><circle cx="286" cy="279" r="1.5" stroke="#c3fc33"/><circle cx="321" cy="270" r="1.5" stroke="#a4fa48"/><circle cx="265" cy="279" r="1.5" stroke="#e1ff1e"/><circle cx="302" cy="267" r="1.5" stroke="#c6fd31"/><circle cx="337" cy="250" r="1.5" stroke="#bffc36"/><path d="M338.0 292.5h5M340.5 290.0v5" stroke="#49fa94"/><circle cx="275" cy="287" r="1.5" stroke="#b2fb3f"/><circle cx="357" cy="313" r="1.5" stroke="#a3fa49"/><path d="M367.0 268.5h5M369.5 266.0v5" stroke="#68fe83"/><circle cx="327" cy="331" r="1.5" stroke="#78f667"/><circle cx="294" cy="248" r="1.5" stroke="#d0fd2a"/><circle cx="306" cy="302" r="1.5" stroke="#bbfc39"/><circle cx="353" cy="305" r="1.5" stroke="#8ef858"/><circle cx="318" cy="324" r="1.5" stroke="#75f669"/><circle cx="275" cy="304" r="1.5" stroke="#cbfd2e"/><circle cx="317" cy="308" r="1.5" stroke="#6ef56e"/><circle cx="326" cy="277" r="1.5" stroke="#b2fb3f"/><circle cx="351" cy="329" r="1.5" stroke="#6ef56e"/><circle cx="286" cy="287" r="1.5" stroke="#a8fa45"/><circle cx="348" cy="320" r="1.5" stroke="#95f853"/><circle cx="333" cy="309" r="1.5" stroke="#73f56a"/><circle cx="317" cy="255" r="1.5" stroke="#aafa45"/><circle cx="303" cy="281" r="1.5" stroke="#c1fc34"/><circle cx="304" cy="276" r="1.5" stroke="#d9fe24"/><circle cx="282" cy="252" r="1.5" stroke="#9cf94e"/><circle cx="215" cy="378" r="1.5" stroke="#b6fb3c"/><circle cx="314" cy="240" r="1.5" stroke="#91f856"/><circle cx="281" cy="267" r="1.5" stroke="#b7fb3c"/><circle cx="335" cy="314" r="1.5" stroke="#a9fa45"/><path d="M289.0 314.5h5M291.5 312.0v5" stroke="#6fff7f"/><path d="M340.0 280.5h5M342.5 278.0v5" stroke="#59fc8b"/><path d="M311.0 292.5h5M313.5 290.0v5" stroke="#54fc8e"/><path d="M332.0 279.5h5M334.5 277.0v5" stroke="#54fc8e"/><path d="M328.0 309.5h5M330.5 307.0v5" stroke="#61fd87"/><circle cx="292" cy="307" r="1.5" stroke="#75f669"/><circle cx="281" cy="291" r="1.5" stroke="#c5fd32"/><path d="M314.0 339.5h5M316.5 337.0v5" stroke="#5bfc8a"/><circle cx="312" cy="303" r="1.5" stroke="#adfa42"/><circle cx="324" cy="328" r="1.5" stroke="#7bf665"/><circle cx="306" cy="307" r="1.5" stroke="#89f75b"/><circle cx="288" cy="295" r="1.5" stroke="#95f853"/><circle cx="284" cy="264" r="1.5" stroke="#aafa44"/><circle cx="326" cy="291" r="1.5" stroke="#8af75b"/><path d="M293.0 359.5h5M295.5 357.0v5" stroke="#5bfc8a"/><circle cx="279" cy="299" r="1.5" stroke="#9cf94e"/><circle cx="316" cy="263" r="1.5" stroke="#a5fa48"/><circle cx="308" cy="315" r="1.5" stroke="#88f75c"/><circle cx="291" cy="332" r="1.5" stroke="#9cf94e"/><circle cx="288" cy="252" r="1.5" stroke="#affb41"/><circle cx="335" cy="284" r="1.5" stroke="#a4fa48"/><path d="M314.0 268.5h5M316.5 266.0v5" stroke="#5efd89"/><path d="M339.0 292.5h5M341.5 290.0v5" stroke="#51fb90"/><circle cx="297" cy="319" r="1.5" stroke="#96f852"/><circle cx="333" cy="291" r="1.5" stroke="#6ff56d"/><circle cx="320" cy="284" r="1.5" stroke="#c4fc32"/><circle cx="301" cy="277" r="1.5" stroke="#88f75c"/><circle cx="306" cy="263" r="1.5" stroke="#c2fc33"/><circle cx="283" cy="285" r="1.5" stroke="#a8fa46"/><circle cx="280" cy="304" r="1.5" stroke="#a7fa46"/><circle cx="274" cy="335" r="1.5" stroke="#99f950"/><circle cx="308" cy="325" r="1.5" stroke="#aefb41"/><circle cx="320" cy="274" r="1.5" stroke="#7df664"/><path d="M343.0 299.5h5M345.5 297.0v5" stroke="#6efe80"/><circle cx="310" cy="331" r="1.5" stroke="#7af665"/><circle cx="287" cy="272" r="1.5" stroke="#c0fc35"/><circle cx="329" cy="281" r="1.5" stroke="#aefb41"/><circle cx="333" cy="312" r="1.5" stroke="#6ef56e"/><circle cx="315" cy="310" r="1.5" stroke="#8cf859"/><circle cx="278" cy="264" r="1.5" stroke="#e1ff1e"/><circle cx="303" cy="298" r="1.5" stroke="#7af666"/><circle cx="312" cy="276" r="1.5" stroke="#dbfe22"/><circle cx="296" cy="242" r="1.5" stroke="#c4fc32"/><circle cx="305" cy="307" r="1.5" stroke="#9bf94f"/><circle cx="297" cy="285" r="1.5" stroke="#a6fa47"/><circle cx="316" cy="274" r="1.5" stroke="#aefb41"/><circle cx="288" cy="304" r="1.5" stroke="#aafa44"/><circle cx="294" cy="267" r="1.5" stroke="#97f952"/><circle cx="298" cy="268" r="1.5" stroke="#cbfd2d"/><circle cx="341" cy="249" r="1.5" stroke="#c2fc34"/><circle cx="294" cy="324" r="1.5" stroke="#bdfc37"/><path d="M349.0 269.5h5M351.5 267.0v5" stroke="#67fe84"/><circle cx="323" cy="284" r="1.5" stroke="#ddff21"/><circle cx="324" cy="298" r="1.5" stroke="#94f854"/><circle cx="296" cy="311" r="1.5" stroke="#c7fd30"/><circle cx="309" cy="262" r="1.5" stroke="#93f854"/><path d="M304.0 355.5h5M306.5 353.0v5" stroke="#51fb90"/><circle cx="314" cy="277" r="1.5" stroke="#85f75e"/><circle cx="336" cy="322" r="1.5" stroke="#9bf94e"/><circle cx="322" cy="287" r="1.5" stroke="#8cf859"/><circle cx="316" cy="276" r="1.5" stroke="#aefb42"/><circle cx="342" cy="263" r="1.5" stroke="#87f75d"/><circle cx="355" cy="297" r="1.5" stroke="#86f75d"/><circle cx="332" cy="268" r="1.5" stroke="#88f75c"/><circle cx="330" cy="285" r="1.5" stroke="#a0f94c"/><circle cx="314" cy="295" r="1.5" stroke="#c2fc34"/><circle cx="381" cy="291" r="1.5" stroke="#6ef56e"/><circle cx="264" cy="310" r="1.5" stroke="#c9fd2e"/><circle cx="265" cy="281" r="1.5" stroke="#a3fa49"/><circle cx="297" cy="354" r="1.5" stroke="#7ff762"/><path d="M343.0 296.5h5M345.5 294.0v5" stroke="#5cfc8a"/><circle cx="325" cy="285" r="1.5" stroke="#9bf94f"/><circle cx="305" cy="313" r="1.5" stroke="#9ff94c"/><path d="M264.0 352.5h5M266.5 350.0v5" stroke="#6dfe80"/><circle cx="268" cy="310" r="1.5" stroke="#acfa43"/><circle cx="294" cy="299" r="1.5" stroke="#b1fb3f"/><path d="M351.0 303.5h5M353.5 301.0v5" stroke="#57fc8d"/><circle cx="323" cy="299" r="1.5" stroke="#a0f94b"/><circle cx="335" cy="315" r="1.5" stroke="#6ef56e"/><circle cx="332" cy="297" r="1.5" stroke="#7cf664"/><circle cx="323" cy="281" r="1.5" stroke="#81f761"/><circle cx="322" cy="297" r="1.5" stroke="#d1fe29"/><circle cx="297" cy="296" r="1.5" stroke="#98f950"/><circle cx="341" cy="261" r="1.5" stroke="#9df94e"/><circle cx="312" cy="291" r="1.5" stroke="#a0f94b"/><circle cx="352" cy="318" r="1.5" stroke="#6ef56e"/><circle cx="280" cy="295" r="1.5" stroke="#bcfc38"/><circle cx="287" cy="296" r="1.5" stroke="#9af950"/><circle cx="304" cy="278" r="1.5" stroke="#77f668"/><circle cx="346" cy="297" r="1.5" stroke="#deff20"/><circle cx="344" cy="257" r="1.5" stroke="#9ef94d"/><circle cx="274" cy="295" r="1.5" stroke="#a9fa45"/><circle cx="306" cy="314" r="1.5" stroke="#7bf665"/><circle cx="332" cy="313" r="1.5" stroke="#6ef56e"/><circle cx="332" cy="215" r="1.5" stroke="#b9fc3a"/><path d="M299.0 356.5h5M301.5 354.0v5" stroke="#51fb90"/><circle cx="277" cy="289" r="1.5" stroke="#b9fb3a"/><path d="M266.0 394.5h5M268.5 392.0v5" stroke="#5ffd88"/><circle cx="321" cy="251" r="1.5" stroke="#b2fb3f"/><circle cx="316" cy="273" r="1.5" stroke="#aefb42"/><circle cx="394" cy="284" r="1.5" stroke="#6ef56e"/><circle cx="303" cy="316" r="1.5" stroke="#79f667"/><circle cx="330" cy="281" r="1.5" stroke="#a3fa49"/><circle cx="308" cy="341" r="1.5" stroke="#d0fe2a"/><circle cx="242" cy="233" r="1.5" stroke="#e1ff1e"/><circle cx="303" cy="287" r="1.5" stroke="#cbfd2e"/><circle cx="294" cy="326" r="1.5" stroke="#72f56b"/><circle cx="303" cy="306" r="1.5" stroke="#b4fb3d"/><circle cx="308" cy="295" r="1.5" stroke="#76f668"/><circle cx="278" cy="298" r="1.5" stroke="#bcfc38"/><circle cx="344" cy="320" r="1.5" stroke="#7cf664"/><circle cx="309" cy="278" r="1.5" stroke="#dcff21"/><circle cx="305" cy="277" r="1.5" stroke="#b6fb3c"/><circle cx="316" cy="319" r="1.5" stroke="#82f760"/><path d="M335.0 275.5h5M337.5 273.0v5" stroke="#49fa94"/><circle cx="344" cy="273" r="1.5" stroke="#6ef56e"/><circle cx="309" cy="288" r="1.5" stroke="#affb41"/><circle cx="331" cy="328" r="1.5" stroke="#6ef56e"/><circle cx="292" cy="250" r="1.5" stroke="#d8fe24"/><circle cx="299" cy="308" r="1.5" stroke="#d3fe28"/><path d="M319.0 306.5h5M321.5 304.0v5" stroke="#60fd87"/><path d="M343.0 271.5h5M345.5 269.0v5" stroke="#72ff7e"/><circle cx="280" cy="283" r="1.5" stroke="#b5fb3c"/><circle cx="353" cy="318" r="1.5" stroke="#8ff857"/><circle cx="304" cy="271" r="1.5" stroke="#b5fb3c"/><circle cx="320" cy="285" r="1.5" stroke="#b0fb40"/><circle cx="303" cy="283" r="1.5" stroke="#93f854"/><circle cx="327" cy="321" r="1.5" stroke="#9af950"/><path d="M400.0 254.5h5M402.5 252.0v5" stroke="#62fd86"/><circle cx="334" cy="304" r="1.5" stroke="#74f66a"/><circle cx="388" cy="249" r="1.5" stroke="#8af75a"/><circle cx="310" cy="275" r="1.5" stroke="#b3fb3e"/><circle cx="319" cy="298" r="1.5" stroke="#aefb42"/><circle cx="350" cy="275" r="1.5" stroke="#a0f94b"/><circle cx="317" cy="282" r="1.5" stroke="#78f667"/><circle cx="251" cy="332" r="1.5" stroke="#c3fc33"/><circle cx="292" cy="289" r="1.5" stroke="#acfa43"/><circle cx="316" cy="272" r="1.5" stroke="#87f75d"/><path d="M363.0 287.5h5M365.5 285.0v5" stroke="#5dfd89"/><path d="M302.0 336.5h5M304.5 334.0v5" stroke="#58fc8c"/><circle cx="308" cy="287" r="1.5" stroke="#b5fb3d"/><circle cx="323" cy="285" r="1.5" stroke="#7ef663"/><circle cx="295" cy="316" r="1.5" stroke="#73f56b"/><circle cx="310" cy="267" r="1.5" stroke="#98f950"/><circle cx="318" cy="275" r="1.5" stroke="#9ef94d"/><circle cx="278" cy="287" r="1.5" stroke="#deff20"/><circle cx="277" cy="255" r="1.5" stroke="#d1fe29"/><circle cx="271" cy="268" r="1.5" stroke="#b8fb3b"/><circle cx="316" cy="301" r="1.5" stroke="#aefb42"/><circle cx="319" cy="295" r="1.5" stroke="#83f760"/><circle cx="320" cy="290" r="1.5" stroke="#90f857"/><circle cx="338" cy="312" r="1.5" stroke="#89f75b"/><circle cx="308" cy="248" r="1.5" stroke="#d0fd2a"/><circle cx="345" cy="262" r="1.5" stroke="#84f75f"/><circle cx="245" cy="283" r="1.5" stroke="#e1ff1e"/><circle cx="350" cy="268" r="1.5" stroke="#7cf664"/><circle cx="303" cy="318" r="1.5" stroke="#87f75d"/><circle cx="301" cy="262" r="1.5" stroke="#96f852"/><circle cx="261" cy="306" r="1.5" stroke="#bafc39"/><path d="M316.0 320.5h5M318.5 318.0v5" stroke="#65fd85"/><circle cx="258" cy="298" r="1.5" stroke="#cdfd2c"/><circle cx="321" cy="309" r="1.5" stroke="#71f56c"/><circle cx="292" cy="298" r="1.5" stroke="#d7fe25"/><circle cx="268" cy="287" r="1.5" stroke="#89f75b"/><path d="M331.0 294.5h5M333.5 292.0v5" stroke="#6efe80"/><circle cx="285" cy="297" r="1.5" stroke="#a8fa46"/><path d="M297.0 346.5h5M299.5 344.0v5" stroke="#61fd87"/><path d="M343.0 283.5h5M345.5 281.0v5" stroke="#6bfe81"/><circle cx="335" cy="326" r="1.5" stroke="#88f75c"/></g>
<g fill="none" stroke="#d2d2d2" stroke-width="1">
<polygon points="332.2,123.3 359.7,130.5 355.8,135.3 412.5,186.7 404.5,196.3 347.2,144.5 343.3,149.7"/>
<polygon points="222.3,246.3 249.7,253.7 245.3,258.3 302.5,310.3 294.1,319 237.3,267.3 233.3,272.7"/>
<polygon points="112.3,369.3 139.7,376.5 135.5,381.4 192.5,432.4 184.4,442.2 127.4,390.4 123.2,395.5"/>
</g>
<text class="sb" x="281.5" y="57" font-size="12.5" textLength="35" lengthAdjust="spacingAndGlyphs">North</text>
<text class="sb" x="15.5" y="318" font-size="12.5" textLength="28" lengthAdjust="spacingAndGlyphs">West</text>
<text class="sb" x="552.3" y="318" font-size="12.5" textLength="27" lengthAdjust="spacingAndGlyphs">East</text>
<text class="sb" x="281.3" y="578" font-size="12.5" textLength="35.4" lengthAdjust="spacingAndGlyphs">South</text>
<!-- stats -->
<g class="m" font-size="11.67" fill="#000" style="white-space:pre">
<text x="594.5" y="71">Num of Sources</text><text x="791" y="71" text-anchor="end">757</text>
<text x="594.5" y="85">Min Freq, kHz</text><text x="791" y="85" text-anchor="end">3900</text>
<text x="594.5" y="99">Max Freq, kHz</text><text x="791" y="99" text-anchor="end">4500</text>
<text x="594.5" y="113">Min Range, km</text><text x="791" y="113" text-anchor="end">320</text>
<text x="594.5" y="127">Max Range, km</text><text x="791" y="127" text-anchor="end">595</text>
<text x="594.5" y="141">Max Amp, dB</text><text x="791" y="141" text-anchor="end">63</text>
<text x="594.5" y="155">Max SNR Amp, dB</text><text x="791" y="155" text-anchor="end">45</text>
<text x="594.5" y="169">Min SNR Amp, dB</text><text x="791" y="169" text-anchor="end">9</text>
<text x="594.5" y="183">Avg SNR Amp, dB</text><text x="791" y="183" text-anchor="end">20</text>
<text x="594.5" y="197">Max RMS Err, deg</text><text x="791" y="197" text-anchor="end">32.0</text>
<text x="594.5" y="211">Min RMS Err, deg</text><text x="791" y="211" text-anchor="end">0.0</text>
<text x="594.5" y="225">Avg RMS Err, deg</text><text x="791" y="225" text-anchor="end">6.1</text>
<text x="594.5" y="239">Doppler Res, Hz</text><text x="791" y="239" text-anchor="end">0.3906</text>
<text x="594.5" y="253">CIT, sec</text><text x="791" y="253" text-anchor="end">2.56</text>
<text x="594.5" y="267">Num of CITs</text><text x="791" y="267" text-anchor="end">5</text>
<text x="594.5" y="281">Polarization</text><text x="791" y="281" text-anchor="end">O-mode</text>
<text x="594.5" y="295">Center of Sources, deg:</text>
<text x="664.5" y="309">Zenith</text><text x="791" y="309" text-anchor="end">4.3</text>
<text x="664.5" y="323">Azimuth</text><path d="M722.3 320C723 317.6 724.8 317.2 725.8 320.3" fill="none" stroke="#333" stroke-width="1.1"/><path d="M720.6 318.6L723.6 320.2L721.2 321.6Z" fill="#222"/><text x="791" y="323" text-anchor="end">317</text>
</g>
<defs><linearGradient id="cbg" x1="0" y1="0" x2="0" y2="1">
<stop offset="0" stop-color="#0000b4"/><stop offset="0.1" stop-color="#0000ff"/><stop offset="0.34" stop-color="#00ffff"/>
<stop offset="0.5" stop-color="#80f080"/><stop offset="0.66" stop-color="#ffff00"/><stop offset="0.9" stop-color="#ff0000"/><stop offset="1" stop-color="#b40000"/>
</linearGradient></defs>
<rect x="593" y="341" width="15" height="241" fill="url(#cbg)"/>
<path fill="none" stroke="#000" stroke-width="1" d="M608.5 341V582M608.5 340.5H615M608.5 345.5H615M608.5 355.5H615M608.5 365.5H615M608.5 374.5H615M608.5 384.5H615M608.5 394.5H615M608.5 403.5H615M608.5 413.5H615M608.5 422.5H615M608.5 432.5H615M608.5 442.5H615M608.5 451.5H615M608.5 461.5H615M608.5 471.5H615M608.5 480.5H615M608.5 490.5H615M608.5 500.5H615M608.5 509.5H615M608.5 519.5H615M608.5 528.5H615M608.5 538.5H615M608.5 548.5H615M608.5 557.5H615M608.5 567.5H615M608.5 577.5H615M608.5 582.5H615"/>
<g class="sb" font-size="11.2" fill="#000">
<text x="617.5" y="345.2" textLength="26.8" lengthAdjust="spacingAndGlyphs">12.5</text>
<text x="617.5" y="369.3" textLength="26.8" lengthAdjust="spacingAndGlyphs">10.0</text>
<text x="617.5" y="388.6" textLength="18.8" lengthAdjust="spacingAndGlyphs">8.0</text>
<text x="617.5" y="407.9" textLength="18.8" lengthAdjust="spacingAndGlyphs">6.0</text>
<text x="617.5" y="427.1" textLength="18.8" lengthAdjust="spacingAndGlyphs">4.0</text>
<text x="617.5" y="446.4" textLength="18.8" lengthAdjust="spacingAndGlyphs">2.0</text>
<text x="617.3" y="465.7">0</text>
<text x="617.5" y="485.0" textLength="24" lengthAdjust="spacingAndGlyphs">-2.0</text>
<text x="617.5" y="504.3" textLength="24" lengthAdjust="spacingAndGlyphs">-4.0</text>
<text x="617.5" y="523.5" textLength="24" lengthAdjust="spacingAndGlyphs">-6.0</text>
<text x="617.5" y="542.8" textLength="24" lengthAdjust="spacingAndGlyphs">-8.0</text>
<text x="617.5" y="562.1" textLength="32.3" lengthAdjust="spacingAndGlyphs">-10.0</text>
<text x="617.5" y="586.2" textLength="32.3" lengthAdjust="spacingAndGlyphs">-12.5</text>
</g>
<text class="sb" font-size="10.5" stroke="#000" stroke-width="0.3" transform="translate(664.5,492) rotate(-90)" textLength="53" lengthAdjust="spacingAndGlyphs">Doppler, Hz</text>
<path d="M669 402.5h8M673.5 398.5v8" stroke="#0000e0" stroke-width="1.3" fill="none"/>
<text class="sb" font-size="10.5" x="683" y="406" fill="#0000e0" textLength="44" lengthAdjust="spacingAndGlyphs">Positive</text>
<circle cx="673" cy="523" r="2.8" stroke="#ee0000" stroke-width="1.5" fill="none"/>
<text class="sb" font-size="10.5" x="683" y="526" fill="#ee0000" textLength="50" lengthAdjust="spacingAndGlyphs">Negative</text>
<g class="m" font-size="11.67" fill="#000" style="white-space:pre">
<text x="12" y="572"><tspan font-style="italic">V</tspan></text><text x="19" y="576" font-size="10.5">h</text>
<text x="33" y="572">= <tspan font-style="italic">324</tspan> ± <tspan font-style="italic">44</tspan> m/s</text>
<text x="474" y="572"><tspan font-style="italic">V</tspan></text><text x="481" y="576" font-size="10.5">z</text>
<text x="495" y="572">= <tspan font-style="italic">23</tspan> ± <tspan font-style="italic">3</tspan> m/s</text>
<text x="12" y="592" font-style="italic">Geographic coordinates</text>
<text x="418.5" y="592" font-style="italic" textLength="163" lengthAdjust="spacingAndGlyphs">Zenith: max 40°&#160;step 5°</text>
</g>
<text class="s" font-size="9.5" x="655" y="592.5" xml:space="preserve" textLength="137" lengthAdjust="spacingAndGlyphs">ShowSkymap v 1.0   SD v 4.2</text>
</svg>
</body></html>
